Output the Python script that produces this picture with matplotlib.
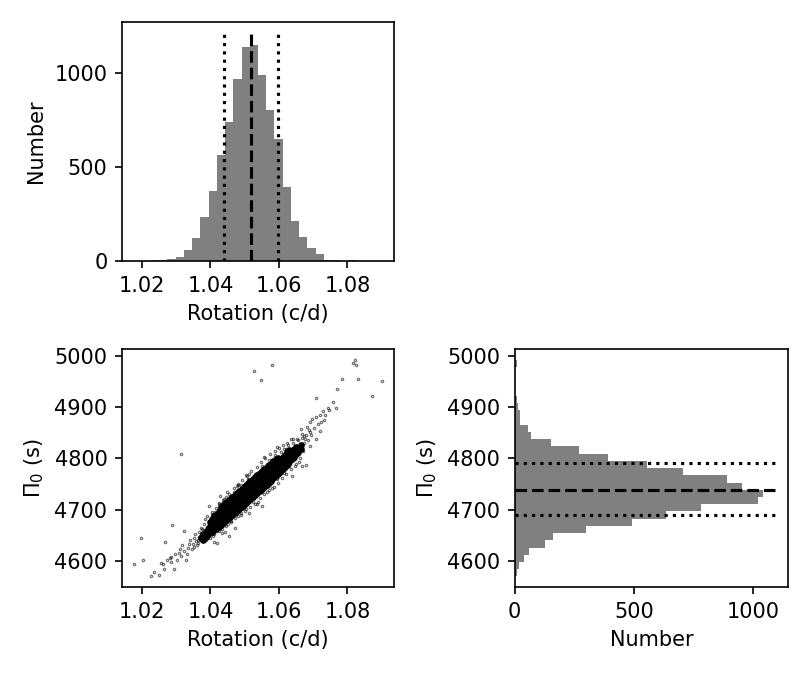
import numpy as np
import matplotlib
matplotlib.use('Agg')
import matplotlib.pyplot as plt

# marginal histograms (30 bins over the sample range)
rot_counts = [2, 1, 3, 5, 11, 20, 60, 124, 236, 372, 564, 739, 968, 1135, 1149,
              989, 803, 649, 394, 213, 126, 67, 35, 6, 5, 1, 3, 1, 1, 1]
pi_counts = [8, 18, 39, 60, 127, 161, 300, 493, 636, 783, 1018, 1039, 951, 888, 707,
             556, 392, 270, 153, 69, 56, 24, 22, 14, 8, 3, 2, 2, 1, 8]

# median and 16/84 percentiles
rot_med, rot_lo, rot_hi = 1.0518, 1.0439, 1.0597
pi_med, pi_lo, pi_hi = 4738, 4690, 4791

# dense part of the sample cloud: one rotation value per row, several periods each
core_rot = [1.0372, 1.0379, 1.0386, 1.0392, 1.0398, 1.0404, 1.0411, 1.0418, 1.0424,
            1.0431, 1.0437, 1.0444,
            1.0451, 1.0457, 1.0464, 1.0471, 1.0477, 1.0484, 1.0491, 1.0497, 1.0504,
            1.0511, 1.0517, 1.0524, 1.0531, 1.0537, 1.0544, 1.0551, 1.0557, 1.0564,
            1.0571, 1.0577, 1.0584, 1.0591, 1.0597, 1.0604, 1.0611, 1.0617, 1.0624,
            1.0631, 1.0637, 1.0644, 1.0651, 1.0657, 1.0664]
core_pi = [[4645], [4642, 4652], [4647, 4657],
           [4653, 4662], [4659, 4668, 4676], [4656, 4665, 4673, 4682],
           [4661, 4670, 4679, 4688], [4664, 4674, 4683, 4692], [4667, 4677, 4686, 4695],
           [4671, 4681, 4690, 4699, 4706], [4674, 4684, 4693, 4702, 4710],
           [4678, 4688, 4697, 4706, 4713], [4682, 4692, 4701, 4710, 4717],
           [4686, 4695, 4704, 4713, 4721], [4690, 4699, 4708, 4717, 4725],
           [4693, 4703, 4712, 4721, 4729], [4697, 4707, 4716, 4725, 4733],
           [4701, 4711, 4720, 4729, 4737], [4705, 4715, 4724, 4733, 4741],
           [4709, 4718, 4728, 4737, 4745], [4713, 4722, 4732, 4741, 4749],
           [4717, 4726, 4736, 4745, 4753], [4720, 4730, 4739, 4748, 4756],
           [4724, 4734, 4743, 4752, 4760], [4728, 4738, 4747, 4756, 4764],
           [4732, 4741, 4751, 4760, 4768], [4736, 4745, 4755, 4764, 4772],
           [4740, 4749, 4759, 4768, 4776], [4744, 4753, 4762, 4771, 4779],
           [4748, 4757, 4766, 4775, 4783], [4752, 4761, 4770, 4779, 4787],
           [4756, 4765, 4774, 4783, 4790], [4761, 4769, 4778, 4787, 4794],
           [4765, 4773, 4782, 4791, 4798], [4769, 4777, 4786, 4795, 4801],
           [4774, 4782, 4790, 4799], [4779, 4787, 4795, 4803], [4783, 4791, 4799, 4807],
           [4788, 4796, 4804, 4812], [4793, 4801, 4809, 4816], [4798, 4806, 4814],
           [4803, 4811, 4819], [4808, 4816, 4823], [4813, 4821], [4818, 4826]]

# sparse samples around the cloud and in the tails
halo_rot = [1.0257, 1.0261, 1.0273, 1.0281, 1.0284, 1.0286, 1.0297, 1.0302, 1.0307,
            1.0310, 1.0314, 1.0317, 1.0324, 1.0328, 1.0332, 1.0334, 1.0337, 1.0341,
            1.0346, 1.0349, 1.0353, 1.0356, 1.0361, 1.0363, 1.0367, 1.0371, 1.0375,
            1.0380, 1.0383, 1.0388, 1.0396, 1.0412, 1.0419, 1.0418, 1.0453, 1.0443,
            1.0473, 1.0460, 1.0488, 1.0513, 1.0536, 1.0550, 1.0397, 1.0424, 1.0429,
            1.0405, 1.0448, 1.0477, 1.0482, 1.0507, 1.0512, 1.0536, 1.0558, 1.0565,
            1.0595, 1.0614, 1.0627, 1.0634, 1.0638, 1.0648, 1.0658, 1.0668, 1.0653,
            1.0665, 1.0672, 1.0682, 1.0690, 1.0692, 1.0697, 1.0704, 1.0709, 1.0713,
            1.0719, 1.0723, 1.0730, 1.0736, 1.0743, 1.0747, 1.0731, 1.0707, 1.0692,
            1.0668, 1.0677, 1.0721, 1.0757, 1.0766, 1.0678,
            1.0440, 1.0455, 1.0468, 1.0480, 1.0493, 1.0503, 1.0520, 1.0535, 1.0548,
            1.0560, 1.0575, 1.0588, 1.0600, 1.0612, 1.0625, 1.0640,
            1.0445, 1.0460, 1.0472, 1.0488, 1.0500, 1.0515, 1.0530, 1.0545, 1.0558,
            1.0572, 1.0585, 1.0598, 1.0610, 1.0622, 1.0636, 1.0650, 1.0662,
            1.0405, 1.0415, 1.0425, 1.0390, 1.0380, 1.0372, 1.0400, 1.0412, 1.0425,
            1.0435,
            1.0352, 1.0358, 1.0365, 1.0368, 1.0374, 1.0378, 1.0382, 1.0386, 1.0390,
            1.0393, 1.0399, 1.0402, 1.0408, 1.0414, 1.0421, 1.0428, 1.0433, 1.0438,
            1.0441, 1.0447, 1.0452,
            1.0620, 1.0628, 1.0633, 1.0642, 1.0646, 1.0655, 1.0660, 1.0667, 1.0670,
            1.0674, 1.0680, 1.0685, 1.0688, 1.0695,
            1.0470, 1.0490, 1.0510, 1.0530, 1.0550, 1.0570, 1.0590, 1.0605,
            1.0480, 1.0505, 1.0525, 1.0540, 1.0565, 1.0580, 1.0595, 1.0615, 1.0630]
halo_pi = [4597, 4595, 4603, 4606, 4598, 4608, 4613, 4603, 4616,
           4623, 4610, 4631, 4620, 4602, 4613, 4626, 4634, 4642,
           4623, 4634, 4644, 4652, 4632, 4642, 4657, 4648, 4662,
           4649, 4681, 4642, 4658, 4638, 4635, 4659, 4648, 4656,
           4665, 4678, 4694, 4694, 4711, 4708, 4707, 4713, 4727,
           4691, 4734, 4746, 4749, 4766, 4769, 4772, 4802, 4789,
           4823, 4818, 4815, 4837, 4766, 4785, 4792, 4785, 4837,
           4857, 4844, 4862, 4870, 4851, 4877, 4860, 4880, 4867,
           4884, 4871, 4892, 4885, 4899, 4894, 4874, 4837, 4824,
           4848, 4838, 4854, 4909, 4899, 4788,
           4720, 4731, 4742, 4750, 4758, 4767, 4775, 4784, 4793,
           4800, 4808, 4814, 4820, 4826, 4830, 4838,
           4668, 4676, 4683, 4690, 4697, 4706, 4712, 4722, 4730,
           4738, 4745, 4752, 4762, 4770, 4780, 4790, 4800,
           4696, 4703, 4712, 4688, 4672, 4664, 4645, 4652, 4658,
           4662,
           4628, 4640, 4636, 4647, 4652, 4641, 4660, 4654, 4667,
           4647, 4651, 4679, 4648, 4695, 4700, 4705, 4655, 4718,
           4670, 4725, 4673,
           4819, 4826, 4790, 4830, 4798, 4835, 4808, 4840, 4815,
           4830, 4845, 4835, 4855, 4845,
           4735, 4748, 4760, 4770, 4785, 4797, 4806, 4812,
           4688, 4702, 4716, 4716, 4735, 4742, 4760, 4771, 4785]

# isolated outliers
out_rot = [1.0178, 1.0198, 1.0202, 1.0228, 1.0235, 1.0250, 1.0266, 1.0268, 1.0287,
           1.0293, 1.0313, 1.0322, 1.0526, 1.0547, 1.0579, 1.0707, 1.0770, 1.0784,
           1.0817, 1.0822, 1.0825, 1.0830, 1.0871, 1.0900]
out_pi = [4595, 4645, 4603, 4570, 4579, 4573, 4584, 4638, 4671,
          4585, 4809, 4658, 4971, 4952, 4981, 4917, 4936, 4954,
          4985, 4992, 4981, 4954, 4921, 4950]

lens = [len(r) for r in core_pi]
cx = np.repeat(core_rot, lens)
cy = np.concatenate(core_pi)
sx = np.array(halo_rot + out_rot)
sy = np.array(halo_pi + out_pi)

all_x = np.concatenate([cx, sx])
all_y = np.concatenate([cy, sy])
rot_edges = np.linspace(all_x.min(), all_x.max(), len(rot_counts) + 1)
pi_edges = np.linspace(all_y.min(), all_y.max(), len(pi_counts) + 1)

fig = plt.figure(figsize=(5.4, 4.5), dpi=150)
ax1 = fig.add_axes([0.1506, 0.6133, 0.3358, 0.3536])
ax2 = fig.add_axes([0.1506, 0.1299, 0.3358, 0.3531])
ax3 = fig.add_axes([0.6354, 0.1299, 0.3374, 0.3531])

# rotation histogram
ax1.hist(rot_edges[:-1], bins=rot_edges, weights=rot_counts,
         histtype='stepfilled', color='gray')
top = 1.05 * max(rot_counts)
ax1.plot([rot_med, rot_med], [0, top], 'k--', lw=1.5)
ax1.plot([rot_lo, rot_lo], [0, top], 'k:', lw=1.5)
ax1.plot([rot_hi, rot_hi], [0, top], 'k:', lw=1.5)
ax1.set_xlabel('Rotation (c/d)')
ax1.set_ylabel('Number')

# period spacing histogram
ax3.hist(pi_edges[:-1], bins=pi_edges, weights=pi_counts,
         histtype='stepfilled', color='gray', orientation='horizontal')
right = 1.05 * max(pi_counts)
ax3.plot([0, right], [pi_med, pi_med], 'k--', lw=1.5)
ax3.plot([0, right], [pi_lo, pi_lo], 'k:', lw=1.5)
ax3.plot([0, right], [pi_hi, pi_hi], 'k:', lw=1.5)
ax3.set_xlabel('Number')
ax3.set_ylabel(r'$\Pi_0$ (s)')

# joint samples
ax2.plot(sx, sy, 'o', ms=1.1, mfc='none', mec='k', mew=0.6, alpha=0.55)
ax2.plot(cx, cy, 'o', ms=3.2, color='k', mec='none')
ax2.set_xlim(ax1.get_xlim())
ax2.set_ylim(ax3.get_ylim())
ax2.set_xlabel('Rotation (c/d)')
ax2.set_ylabel(r'$\Pi_0$ (s)')

fig.savefig('out.png', dpi=150)
